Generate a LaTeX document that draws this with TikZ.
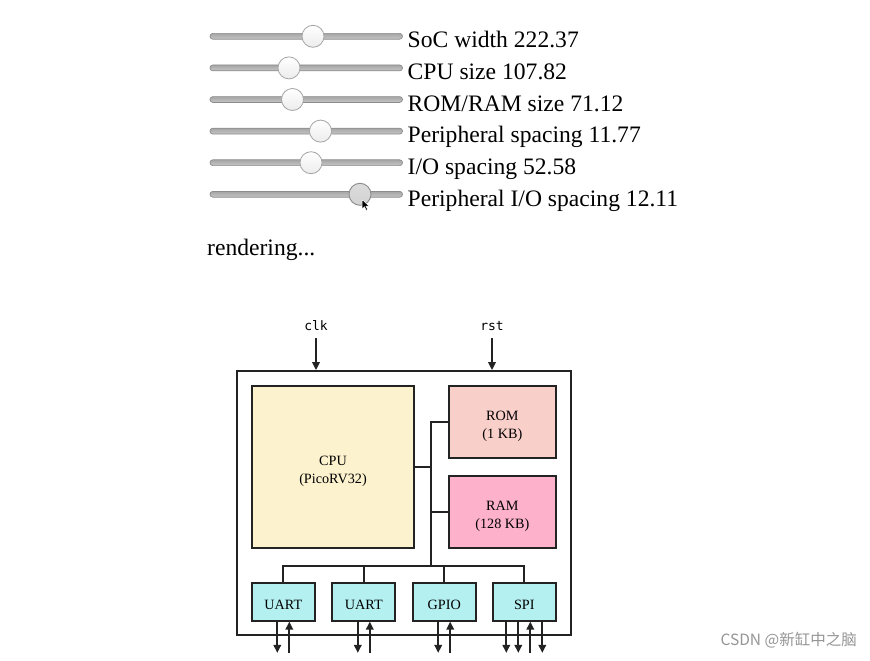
\documentclass[tikz,border=0pt]{standalone}
\usepackage{fontspec}
\setmainfont{Liberation Serif}
\newfontfamily\monof{DejaVu Sans Mono}
\newfontfamily\cjkf{Noto Sans CJK SC}
\usetikzlibrary{arrows.meta}
\definecolor{cpucol}{RGB}{252,242,206}
\definecolor{romcol}{RGB}{249,207,201}
\definecolor{ramcol}{RGB}{253,177,202}
\definecolor{percol}{RGB}{181,240,240}
\definecolor{linecol}{RGB}{35,35,35}
\definecolor{wmcol}{RGB}{150,150,150}
\tikzset{
  blk/.style={draw=linecol, line width=1.8pt, inner sep=0pt},
  blktxt/.style={inner sep=0pt, align=center, font=\fontsize{14.2}{17.5}\selectfont},
  wire/.style={draw=linecol, line width=1.7pt},
  arr/.style={wire, -{Triangle[length=8pt,width=7.5pt]}},
  sig/.style={font=\monof\fontsize{13}{15}\selectfont, anchor=south, inner sep=0pt},
  track/.style={draw=gray!90, line width=0.7pt, top color=gray!70, bottom color=gray!45, rounded corners=2.8pt},
  knob/.style={circle, draw=gray!70, line width=0.8pt, minimum size=22pt, inner sep=0pt, top color=white, bottom color=gray!15},
  knobact/.style={circle, draw=gray!90, line width=0.9pt, minimum size=22pt, inner sep=0pt, top color=gray!28, bottom color=gray!35},
  lbl/.style={anchor=base west, inner sep=0pt, font=\fontsize{23.6}{28}\selectfont}
}
\begin{document}
\begin{tikzpicture}[x=1pt,y=-1pt]
\useasboundingbox[fill=white] (0,0) rectangle (870,661);
% sliders
\foreach \i/\yb/\kx/\txt in {1/48/313/{SoC width 222.37},2/79.6/289/{CPU size 107.82},3/111.2/292.5/{ROM/RAM size 71.12},4/142.8/320.5/{Peripheral spacing 11.77},5/174.4/311/{I/O spacing 52.58}}{
  \path[track] (210,\yb-14.6) rectangle (402.5,\yb-8.8);
  \node[knob] (k\i) at (\kx,\yb-11.7) {};
  \node[lbl] (t\i) at (407.5,\yb) {\txt};
}
\path[track] (210,206-14.6) rectangle (402.5,206-8.8);
\node[knobact] (k6) at (360,206-11.7) {};
\node[lbl] (t6) at (407.5,206) {Peripheral I/O spacing 12.11};
% cursor
\filldraw[fill=black, draw=white, line width=0.5pt, shift={(362,199.5)}, scale=0.8]
  (0,0) -- (0,12) -- (3,9) -- (5.2,13.5) -- (7,12.7) -- (4.9,8.3) -- (9,8.3) -- cycle;
\node[lbl] (rend) at (207,255) {rendering...};
% diagram
\node[sig] (clk) at (316,330.7) {clk};
\node[sig] (rst) at (492,330.7) {rst};
\node[blk, minimum width=333.4pt, minimum height=264pt] (soc) at (404,503) {};
\node[blk, fill=cpucol, minimum width=162pt, minimum height=161.7pt] (cpu) at (333,466.85) {};
\node[blk, fill=romcol, minimum width=106.7pt, minimum height=71.7pt] (rom) at (502.35,421.85) {};
\node[blk, fill=ramcol, minimum width=106.7pt, minimum height=71.7pt] (ram) at (502.35,511.85) {};
\node[blktxt] (cput) at ([yshift=-4.5pt]cpu.center) {CPU\\(PicoRV32)};
\node[blktxt] (romt) at ([yshift=-4.5pt]rom.center) {ROM\\(1 KB)};
\node[blktxt] (ramt) at ([yshift=-4.5pt]ram.center) {RAM\\(128 KB)};
\foreach \n/\x/\t in {p1/283.3/UART,p2/363.8/UART,p3/444.2/GPIO,p4/524.3/SPI}{
  \node[blk, fill=percol, minimum width=63pt, minimum height=37.4pt] (\n) at (\x,602) {};
  \node[blktxt] (\n t) at ([yshift=-2.5pt]\n.center) {\t};
}
\draw[arr, shorten <=7.5pt] (clk.south) -- (clk.south |- soc.north);
\draw[arr, shorten <=7.5pt] (rst.south) -- (rst.south |- soc.north);
% bus
\coordinate (bt) at (431.3,421.85);
\coordinate (bb) at (431.3,566);
\draw[wire] (rom.west) -- (rom.west -| bt);
\draw[wire] (ram.west) -- (ram.west -| bt);
\draw[wire] (cpu.east) -- (cpu.east -| bt);
\draw[wire, line cap=rect] (bt) -- (bb);
\draw[wire, line cap=rect] (p1.north |- bb) -- (p4.north |- bb);
\foreach \n in {p1,p2,p3,p4}{\draw[wire] (\n.north) -- (\n.north |- bb);}
% I/O arrows
\foreach \n in {p1,p2,p3}{
  \draw[arr] ([xshift=-6pt]\n.south) -- ([xshift=-6pt,yshift=-31.3pt]\n.south);
  \draw[arr] ([xshift=6pt,yshift=-31.3pt]\n.south) -- ([xshift=6pt]\n.south);
}
\draw[arr] ([xshift=-18pt]p4.south) -- ([xshift=-18pt,yshift=-31.3pt]p4.south);
\draw[arr] ([xshift=-6pt]p4.south) -- ([xshift=-6pt,yshift=-31.3pt]p4.south);
\draw[arr] ([xshift=6pt,yshift=-31.3pt]p4.south) -- ([xshift=6pt]p4.south);
\draw[arr] ([xshift=18pt]p4.south) -- ([xshift=18pt,yshift=-31.3pt]p4.south);
% watermark
\node[anchor=base east, inner sep=0pt, text=wmcol, font=\cjkf\fontsize{15.5}{18}\selectfont] (wm) at (857,645.5) {CSDN @新缸中之脑};
\end{tikzpicture}
\end{document}
